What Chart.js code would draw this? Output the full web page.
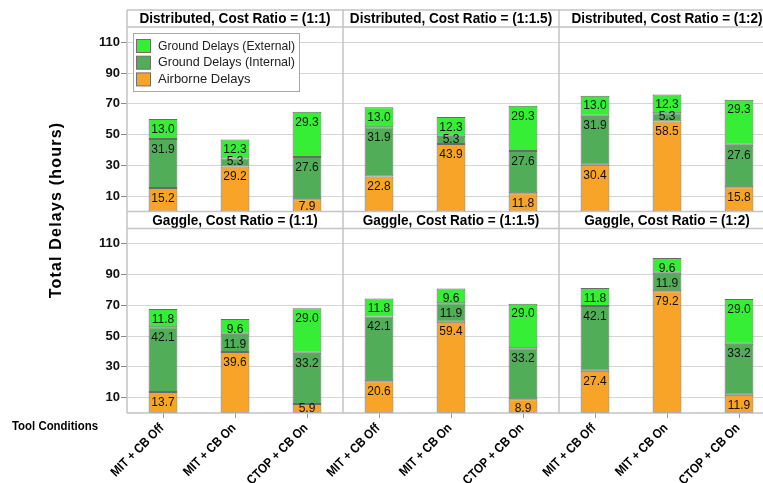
<!DOCTYPE html>
<html><head><meta charset="utf-8">
<script src="https://cdn.jsdelivr.net/npm/chart.js@4.4.0/dist/chart.umd.min.js"></script>
<style>
html,body{margin:0;padding:0;overflow:hidden;background:#fff;width:763px;height:483px}
#wrap{position:absolute;left:0;top:0;width:790px;height:483px}
</style>
</head><body><div id="wrap"><canvas id="c" width="790" height="483"></canvas></div>
<script>
const toolConditions = ['MIT + CB Off', 'MIT + CB On', 'CTOP + CB On'];
const costRatios = ['1:1', '1:1.5', '1:2'];
const rowNames = ['Distributed', 'Gaggle'];
const seriesNames = ['Ground Delays (External)', 'Ground Delays (Internal)', 'Airborne Delays'];
// Each row: cost ratio 1:1, 1:1.5, 1:2 — three tool conditions each
const distAirborne = [15.2, 29.2, 7.9, 22.8, 43.9, 11.8, 30.4, 58.5, 15.8];
const distInternal = [31.9, 5.3, 27.6, 31.9, 5.3, 27.6, 31.9, 5.3, 27.6];
const distExternal = [13.0, 12.3, 29.3, 13.0, 12.3, 29.3, 13.0, 12.3, 29.3];
const gagAirborne = [13.7, 39.6, 5.9, 20.6, 59.4, 8.9, 27.4, 79.2, 11.9];
const gagInternal = [42.1, 11.9, 33.2, 42.1, 11.9, 33.2, 42.1, 11.9, 33.2];
const gagExternal = [11.8, 9.6, 29.0, 11.8, 9.6, 29.0, 11.8, 9.6, 29.0];
const yTickValues = [10, 30, 50, 70, 90, 110];

const COL_EXT = '#36EE36', COL_INT = '#52AD59', COL_AIR = '#F7A428';
const SANS = '"Liberation Sans","DejaVu Sans",sans-serif';
const labels = costRatios.flatMap(() => toolConditions);

function ds(label, data, axis, color) {
  return { label, data, yAxisID: axis, xAxisID: 'x', stack: 's',
    backgroundColor: color, borderColor: '#6a6a6a', borderWidth: 1, borderSkipped: false,
    barPercentage: 0.4, categoryPercentage: 1 };
}
const datasets = [
  ds(seriesNames[2], distAirborne, 'yTop', COL_AIR),
  ds(seriesNames[1], distInternal, 'yTop', COL_INT),
  ds(seriesNames[0], distExternal, 'yTop', COL_EXT),
  ds(seriesNames[2], gagAirborne, 'yBot', COL_AIR),
  ds(seriesNames[1], gagInternal, 'yBot', COL_INT),
  ds(seriesNames[0], gagExternal, 'yBot', COL_EXT)
];

function yScale(weight) {
  return {
    type: 'linear', position: 'left', stack: 'rows', stackWeight: 1, weight: weight,
    stacked: true, min: 0, max: 131,
    afterBuildTicks(s) { s.ticks = yTickValues.map(v => ({ value: v })); },
    afterFit(s) { s.width = 127; },
    grid: { color: '#d6d6d6', borderDash: [6, 4], tickLength: 6, tickColor: '#8a8a8a', tickBorderDash: [], lineWidth: 1 },
    border: { display: false },
    ticks: { padding: 1, color: '#111', font: { family: SANS, weight: 'bold', size: 13 } }
  };
}

const HEADER_H = 17;
const panelPlugin = {
  id: 'panels',
  afterDatasetsDraw(chart) {
    const ctx = chart.ctx;
    ctx.save();
    ctx.font = '12px ' + SANS;
    ctx.fillStyle = '#111';
    ctx.textAlign = 'center';
    ctx.textBaseline = 'middle';
    chart.data.datasets.forEach((d, i) => {
      const meta = chart.getDatasetMeta(i);
      meta.data.forEach((el, j) => {
        const p = el.getProps(['x', 'y', 'base'], true);
        const top = Math.min(p.y, p.base), bot = Math.max(p.y, p.base);
        const ty = Math.min(top + 10.5, bot - 4.5);
        ctx.fillText(d.data[j].toFixed(1), p.x, ty);
      });
    });
    ctx.restore();
  },
  afterDraw(chart) {
    const ctx = chart.ctx;
    const ca = chart.chartArea;
    const colW = (ca.right - ca.left) / costRatios.length;
    const rows = [chart.scales.yTop, chart.scales.yBot];
    ctx.save();
    // headers (condensed bold)
    ctx.font = 'bold 15px ' + SANS;
    const refW = ctx.measureText(rowNames[0] + ', Cost Ratio = (' + costRatios[0] + ')').width;
    const hScale = 191 / refW;
    rows.forEach((s, r) => {
      ctx.fillStyle = '#fff';
      ctx.fillRect(ca.left, s.top, ca.right - ca.left, HEADER_H);
      ctx.fillStyle = '#000';
      ctx.textAlign = 'center';
      ctx.textBaseline = 'middle';
      costRatios.forEach((cr, c) => {
        const txt = rowNames[r] + ', Cost Ratio = (' + cr + ')';
        ctx.save();
        ctx.translate(ca.left + colW * (c + 0.5), s.top + HEADER_H / 2 + 0.5);
        ctx.scale(hScale, 1);
        ctx.fillText(txt, 0, 0);
        ctx.restore();
      });
    });
    // borders
    ctx.strokeStyle = '#c4c4c4';
    ctx.lineWidth = 1.5;
    ctx.beginPath();
    for (let c = 0; c <= costRatios.length; c++) {
      const x = ca.left + colW * c;
      ctx.moveTo(x, ca.top); ctx.lineTo(x, ca.bottom);
    }
    rows.forEach(s => {
      ctx.moveTo(ca.left, s.top); ctx.lineTo(ca.right, s.top);
      ctx.moveTo(ca.left, s.top + HEADER_H); ctx.lineTo(ca.right, s.top + HEADER_H);
    });
    ctx.moveTo(ca.left, ca.bottom); ctx.lineTo(ca.right, ca.bottom);
    ctx.stroke();
    // x tick labels (rotated, condensed)
    const xs = chart.scales.x;
    ctx.fillStyle = '#000';
    ctx.font = 'bold 13px ' + SANS;
    ctx.textAlign = 'right';
    ctx.textBaseline = 'middle';
    labels.forEach((lab, i) => {
      const px = xs.getPixelForValue(i);
      ctx.save();
      ctx.translate(px - 1, ca.bottom + 13);
      ctx.rotate(-Math.PI / 4);
      ctx.scale(0.88, 1);
      ctx.fillText(lab, 0, 0);
      ctx.restore();
    });
    // legend
    const lx = 133, ly = 33, lw = 166, lh = 58;
    ctx.fillStyle = '#fff';
    ctx.fillRect(lx, ly, lw, lh);
    ctx.strokeStyle = '#a8a8a8';
    ctx.lineWidth = 1;
    ctx.strokeRect(lx + 0.5, ly + 0.5, lw, lh);
    const legCols = [COL_EXT, COL_INT, COL_AIR];
    ctx.font = '13px ' + SANS;
    ctx.textAlign = 'left';
    ctx.textBaseline = 'middle';
    seriesNames.forEach((n, i) => {
      const cy = 46 + i * 16.7;
      ctx.fillStyle = legCols[i];
      ctx.fillRect(136.5, cy - 6.5, 14, 13);
      ctx.strokeStyle = '#6e6e6e';
      ctx.strokeRect(136.5, cy - 6.5, 14, 13);
      ctx.fillStyle = '#222';
      ctx.fillText(n, 158, cy, 137);
    });
    // axis title
    ctx.save();
    ctx.translate(57, 210);
    ctx.rotate(-Math.PI / 2);
    ctx.fillStyle = '#000';
    ctx.font = 'bold 16px ' + SANS;
    ctx.textAlign = 'center';
    ctx.textBaseline = 'middle';
    try { ctx.letterSpacing = '1.2px'; } catch (e) {}
    ctx.fillText('Total Delays (hours)', 0, 0);
    ctx.restore();
    // tool conditions label
    ctx.fillStyle = '#000';
    ctx.font = 'bold 12px ' + SANS;
    ctx.textAlign = 'left';
    ctx.textBaseline = 'middle';
    ctx.fillText('Tool Conditions', 12, 427, 86);
    ctx.restore();
  }
};

new Chart(document.getElementById('c'), {
  type: 'bar',
  data: { labels, datasets },
  options: {
    responsive: false, animation: false, devicePixelRatio: 1,
    layout: { padding: { top: 10, right: 15, left: 0, bottom: 0 } },
    plugins: { legend: { display: false }, tooltip: { enabled: false } },
    scales: {
      x: {
        type: 'category', position: 'bottom', stacked: true, offset: true,
        afterFit(s) { s.height = 70; },
        grid: { display: true, drawOnChartArea: false, drawTicks: true, tickLength: 5, offset: false, color: '#999' },
        border: { display: false },
        ticks: { display: false }
      },
      yTop: yScale(1),
      yBot: yScale(0)
    }
  },
  plugins: [panelPlugin]
});
</script>
</body></html>
